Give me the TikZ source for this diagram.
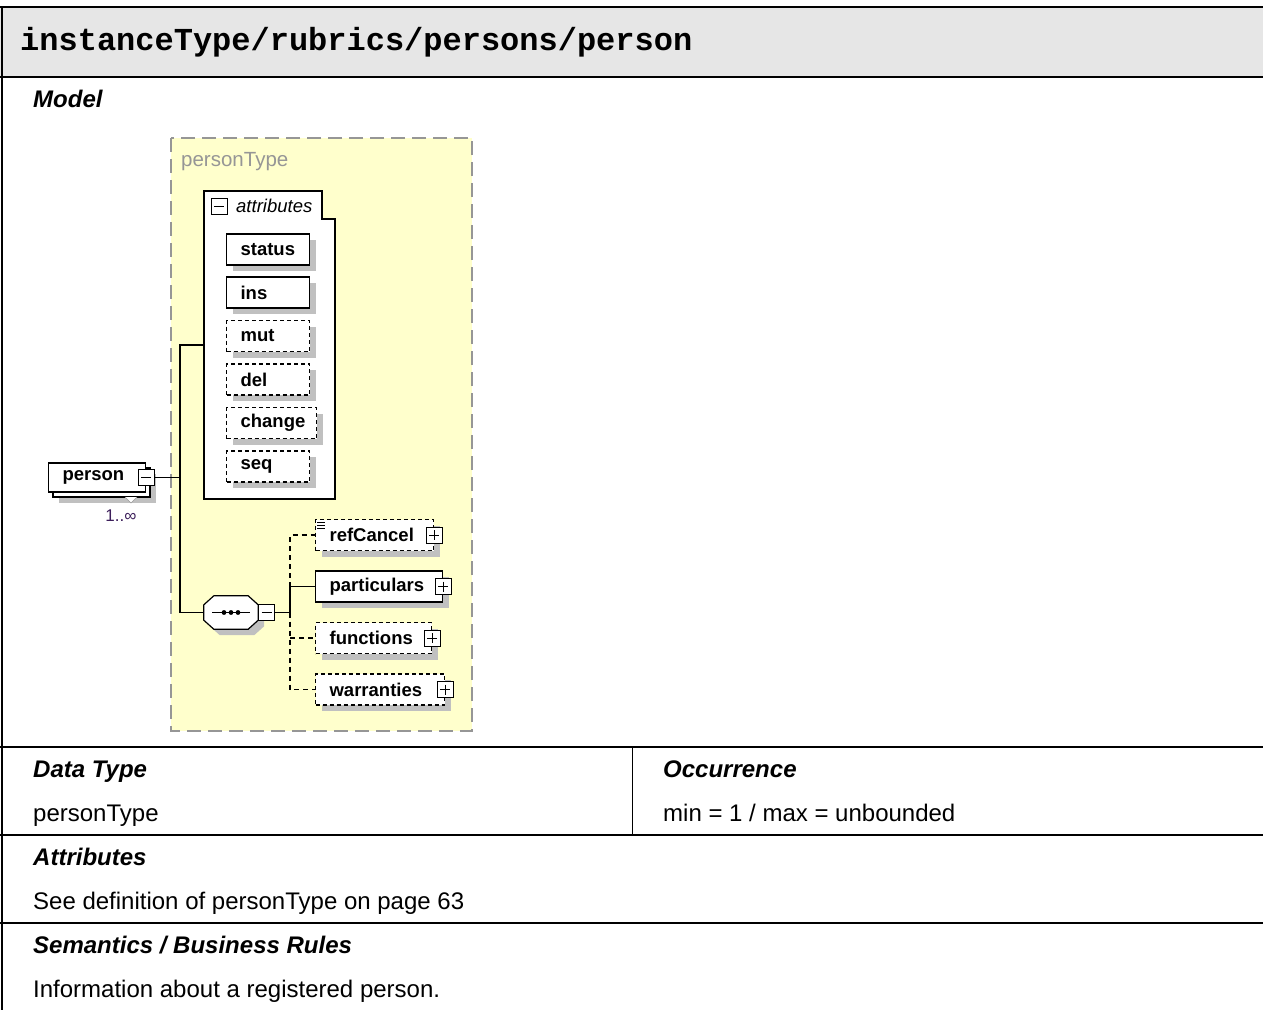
\documentclass[tikz,border=0pt]{standalone}
\usepackage{fontspec}
\setmainfont{Liberation Sans}
\newfontfamily\titlefont{Liberation Mono}
\usetikzlibrary{shadows}
\definecolor{headgray}{RGB}{230,230,230}
\definecolor{typeyellow}{RGB}{255,255,204}
\definecolor{shadowgray}{RGB}{192,192,192}
\definecolor{typegray}{RGB}{150,150,150}
\definecolor{occurs}{RGB}{60,30,90}

\begin{document}
\begin{tikzpicture}[x=1pt,y=-1pt,
  box/.style={draw,fill=white,line width=1.2pt,inner xsep=14pt,inner ysep=0pt,minimum height=31pt,align=left,font=\fontsize{18.5}{18.5}\selectfont\bfseries},
  shade/.style={drop shadow={shadow xshift=6pt,shadow yshift=-6pt,opacity=1,fill=shadowgray}},
  elem/.style={box,shade},
  opt/.style={elem,dash pattern=on 4pt off 3pt},
  minusbox/.style={draw,fill=white,line width=1pt,minimum size=16pt,inner sep=0pt,
    path picture={\draw[line width=1pt] ([xshift=3pt]path picture bounding box.west) -- ([xshift=-3pt]path picture bounding box.east);}},
  plusbox/.style={draw,fill=white,line width=1pt,minimum size=16pt,inner sep=0pt,
    path picture={\draw[line width=1pt] ([xshift=3pt]path picture bounding box.west) -- ([xshift=-3pt]path picture bounding box.east);
      \draw[line width=1pt] ([yshift=-3pt]path picture bounding box.north) -- ([yshift=3pt]path picture bounding box.south);}},
  head/.style={anchor=base west,inner sep=0pt,font=\fontsize{24}{24}\selectfont\bfseries\itshape},
  body/.style={anchor=base west,inner sep=0pt,font=\fontsize{24}{24}\selectfont},
  link/.style={line width=1.2pt},
  optlink/.style={link,dash pattern=on 5pt off 4pt}]
\useasboundingbox (0,0) rectangle (1263,1010);

% table
\fill[headgray] (0,7) rectangle (1263,77);
\foreach \y in {7,77,747,835,923}
  \draw[line width=2.5pt] (0,\y) -- (1263,\y);
\draw[line width=2pt] (1.5,7) -- (1.5,1010);
\draw[line width=1pt] (632,747) -- (632,835);

\node[anchor=base west,inner sep=0pt,font=\titlefont\fontsize{32}{32}\selectfont\bfseries] (title) at (20,50) {instanceType/rubrics/persons/person};
\node[head] (model) at (33,107) {Model};
\node[head] (dtype) at (33,777) {Data Type};
\node[body] (dtypeval) at (33,821) {personType};
\node[head] (occ) at (663,777) {Occurrence};
\node[body] (occval) at (663,821) {min = 1 / max = unbounded};
\node[head] (attrs) at (33,865) {Attributes};
\node[body] (attrsval) at (33,909) {See definition of personType on page 63};
\node[head] (sem) at (33,953) {Semantics / Business Rules};
\node[body] (semval) at (33,997) {Information about a registered person.};

% personType
\draw[typegray,dash pattern=on 14pt off 7pt,line width=1.3pt,fill=typeyellow] (171,138) rectangle (472,731);
\node[anchor=base west,inner sep=0pt,text=typegray,font=\fontsize{20.5}{20.5}\selectfont] (ptype) at (181,166) {personType};

% attributes
\draw[line width=1.2pt,fill=white] (204,191) -- (322,191) -- (322,219) -- (335,219) -- (335,499) -- (204,499) -- cycle;
\node[minusbox] (attrpm) at (219,206) {};
\node[anchor=base west,inner sep=0pt,font=\fontsize{18.5}{18.5}\selectfont\itshape] (attrlbl) at (236,212) {attributes};
\coordinate (attr) at (204,345);
\node[elem,anchor=west,text width=55pt] (status) at (226,249.5) {status};
\node[elem,anchor=west,text width=55pt] (ins) at (226,292.5) {ins};
\node[opt,anchor=west,text width=55pt] (mut) at (226,336) {mut};
\node[opt,anchor=west,text width=55pt] (del) at (226,379.5) {del};
\node[opt,anchor=west,text width=62pt] (change) at (226,423) {change};
\node[opt,anchor=west,text width=55pt] (seq) at (226,466.5) {seq};

% person
\node[elem,minimum width=97pt,minimum height=29pt] (personback) at (101.5,482.5) {};
\draw[typegray,fill=white] (125,497) -- (131,503) -- (137,497);
\node[box,anchor=west,text width=69pt,minimum height=29pt] (person) at (48,477.5) {person};
\node[minusbox] (personpm) at (person.east) {};
\node[inner sep=0pt,text=occurs,font=\fontsize{17}{17}\selectfont] (occurs) at (121,516) {1..∞};

% sequence
\node[minimum width=54pt,minimum height=33pt,inner sep=0pt] (sequence) at (231,612.5) {};
\draw[line width=1.2pt,fill=white,shade] ([xshift=10pt]sequence.north west) -- ([xshift=-10pt]sequence.north east)
  -- ([yshift=-9pt]sequence.north east) -- ([yshift=9pt]sequence.south east) -- ([xshift=-10pt]sequence.south east)
  -- ([xshift=10pt]sequence.south west) -- ([yshift=9pt]sequence.south west) -- ([yshift=-9pt]sequence.north west) -- cycle;
\draw[line width=1.2pt] ([xshift=-19pt]sequence.center) -- ([xshift=19pt]sequence.center);
\foreach \dx in {-7,0,7}
  \fill ([xshift=\dx pt]sequence.center) circle (2.4pt);
\node[minusbox,anchor=west] (seqpm) at (sequence.east) {};

% children
\node[opt,anchor=west,text width=90pt] (refcancel) at (315,535) {refCancel};
\node[plusbox] (refcancelpm) at (refcancel.east) {};
\foreach \dy in {3,6,9}
  \draw[line width=0.8pt] ([xshift=2pt,yshift=-\dy pt]refcancel.north west) -- ++(8,0);
\node[elem,anchor=west,text width=99pt] (particulars) at (315,586.5) {particulars};
\node[plusbox] (particularspm) at (particulars.east) {};
\node[opt,anchor=west,text width=88pt] (functions) at (315,638) {functions};
\node[plusbox] (functionspm) at (functions.east) {};
\node[opt,anchor=west,text width=101pt] (warranties) at (315,689.5) {warranties};
\node[plusbox] (warrantiespm) at (warranties.east) {};

% connectors
\coordinate (trunk) at (180,477.5);
\coordinate (fork) at (290,612.5);
\draw[link] (personpm) -- (trunk);
\draw[link] (attr) -| (trunk) |- (sequence);
\draw[link] (seqpm) -- (fork);
\draw[link] (fork) |- (particulars);
\draw[optlink] (fork |- particulars.west) |- (refcancel);
\draw[optlink] (fork) |- (warranties);
\draw[optlink] (fork |- functions.west) -- (functions);
\end{tikzpicture}
\end{document}
